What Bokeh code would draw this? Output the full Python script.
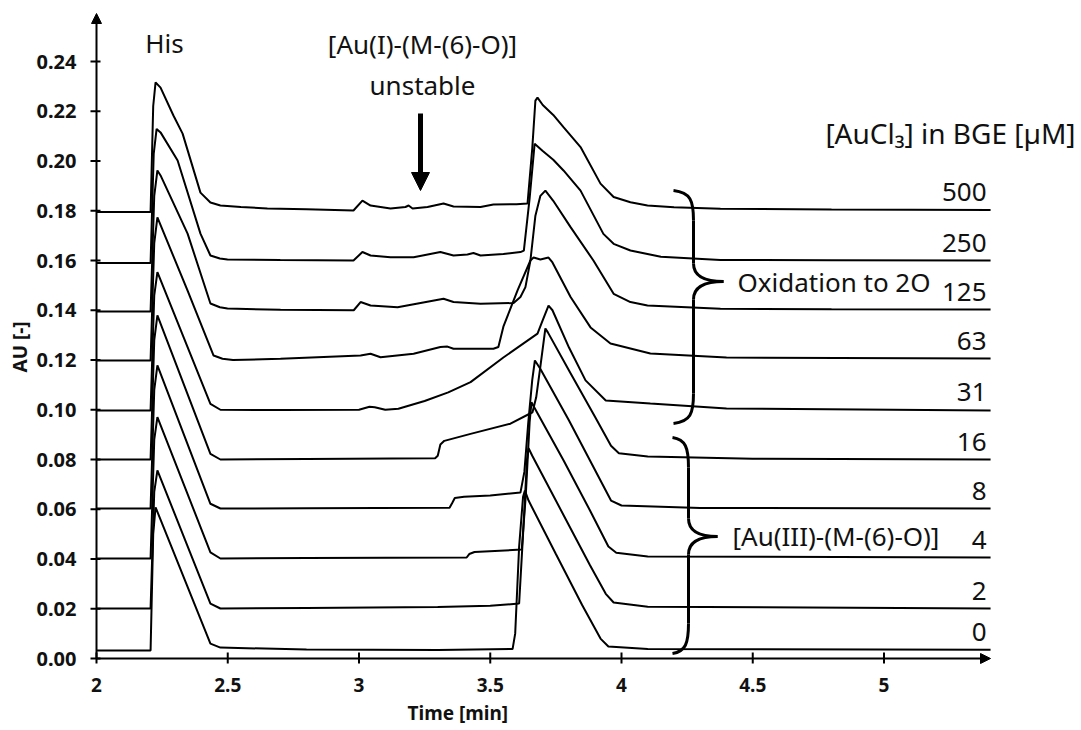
from bokeh.plotting import figure
from bokeh.models import (Range1d, FixedTicker, NumeralTickFormatter, CustomJSTickFormatter,
                          Arrow, NormalHead, Title)
from bokeh.core.properties import value
from bokeh.embed import file_html
from bokeh.resources import INLINE

# ---------------- data ----------------
conc_labels = ["500", "250", "125", "63", "31", "16", "8", "4", "2", "0"]
x_ticks = [2, 2.5, 3, 3.5, 4, 4.5, 5]
y_ticks = [0.00, 0.02, 0.04, 0.06, 0.08, 0.10, 0.12, 0.14, 0.16, 0.18, 0.20, 0.22, 0.24]

t_500 = [2.00, 2.206, 2.216, 2.225, 2.244, 2.293, 2.328, 2.396, 2.434, 2.472, 2.55, 2.651, 2.80, 2.979, 3.013,
         3.044, 3.12, 3.177, 3.189, 3.204, 3.261, 3.322, 3.36, 3.463, 3.512, 3.60, 3.642, 3.66, 3.672, 3.68,
         3.70, 3.74, 3.779, 3.844, 3.92, 3.97, 4.034, 4.099, 4.20, 4.377, 4.8, 5.406]
a_500 = [0.1795, 0.1795, 0.222, 0.2316, 0.2295, 0.2183, 0.211, 0.1873, 0.1833, 0.1821, 0.1815, 0.1809, 0.1806,
         0.1801, 0.1841, 0.1821, 0.1809, 0.1815, 0.1821, 0.1809, 0.1815, 0.1829, 0.1817, 0.1815, 0.1825, 0.1826,
         0.1829, 0.205, 0.2243, 0.2255, 0.2225, 0.2185, 0.2136, 0.2056, 0.1909, 0.1855, 0.1834, 0.1821, 0.1814,
         0.1808, 0.1805, 0.1803]

t_250 = [2.00, 2.206, 2.218, 2.229, 2.244, 2.309, 2.396, 2.434, 2.47, 2.499, 2.7, 2.979, 3.013, 3.044, 3.12,
         3.208, 3.31, 3.36, 3.413, 3.436, 3.463, 3.55, 3.615, 3.628, 3.65, 3.669, 3.70, 3.74, 3.779, 3.844,
         3.931, 3.97, 4.034, 4.15, 4.377, 4.8, 5.406]
a_250 = [0.1590, 0.1590, 0.203, 0.2129, 0.2115, 0.2002, 0.1708, 0.1620, 0.1608, 0.1604, 0.1602, 0.1600, 0.1634,
         0.1620, 0.1613, 0.1613, 0.1634, 0.1620, 0.1624, 0.1630, 0.1620, 0.1626, 0.1634, 0.1640, 0.185, 0.2069,
         0.2040, 0.2005, 0.1962, 0.1881, 0.1707, 0.1667, 0.1640, 0.1615, 0.1602, 0.1601, 0.1600]

t_125 = [2.00, 2.206, 2.220, 2.232, 2.244, 2.347, 2.434, 2.47, 2.499, 2.701, 2.98, 3.006, 3.044, 3.147, 3.322,
         3.36, 3.463, 3.589, 3.615, 3.634, 3.653, 3.672, 3.691, 3.71, 3.74, 3.806, 3.893, 3.97, 4.034, 4.099,
         4.377, 4.8, 5.406]
a_125 = [0.1395, 0.1395, 0.186, 0.1962, 0.1942, 0.1708, 0.1427, 0.1412, 0.1407, 0.1402, 0.1400, 0.1433, 0.1419,
         0.1412, 0.1446, 0.1433, 0.1426, 0.1429, 0.1453, 0.1493, 0.1600, 0.1780, 0.1860, 0.1881, 0.1840, 0.1734,
         0.1600, 0.1466, 0.1433, 0.1419, 0.1406, 0.1404, 0.1403]

t_63 = [2.00, 2.206, 2.220, 2.232, 2.347, 2.446, 2.48, 2.52, 2.701, 3.006, 3.044, 3.082, 3.208, 3.31, 3.337,
        3.36, 3.512, 3.531, 3.55, 3.604, 3.653, 3.665, 3.691, 3.722, 3.737, 3.806, 3.882, 3.958, 4.11, 4.4, 5.406]
a_63 = [0.1198, 0.1198, 0.167, 0.1773, 0.1479, 0.1218, 0.1205, 0.1200, 0.1205, 0.1218, 0.1225, 0.1211, 0.1225,
        0.1252, 0.1254, 0.1245, 0.1245, 0.1252, 0.1334, 0.1480, 0.1600, 0.1612, 0.1604, 0.1612, 0.1592, 0.1453,
        0.1331, 0.1266, 0.1226, 0.1210, 0.1206]

t_31 = [2.00, 2.206, 2.220, 2.232, 2.434, 2.472, 2.7, 3.0, 3.04, 3.06, 3.1, 3.15, 3.25, 3.34, 3.425, 3.55,
        3.68, 3.70, 3.722, 3.737, 3.80, 3.863, 3.94, 4.11, 4.4, 5.406]
a_31 = [0.0997, 0.0997, 0.146, 0.1553, 0.1024, 0.1000, 0.0999, 0.1000, 0.1012, 0.1010, 0.1000, 0.1004, 0.1035,
        0.1070, 0.1111, 0.1210, 0.1306, 0.1360, 0.1419, 0.1400, 0.1250, 0.1118, 0.1037, 0.1025, 0.1005, 0.0997]

t_16 = [2.00, 2.206, 2.220, 2.232, 2.434, 2.472, 2.8, 3.29, 3.30, 3.31, 3.325, 3.425, 3.577, 3.661, 3.675,
        3.69, 3.71, 3.72, 3.80, 3.90, 3.96, 3.99, 4.1, 4.5, 5.406]
a_16 = [0.0800, 0.0800, 0.128, 0.1379, 0.0823, 0.0800, 0.0802, 0.0805, 0.0815, 0.0860, 0.0875, 0.0903, 0.0944,
        0.0990, 0.1050, 0.1166, 0.1327, 0.1310, 0.1158, 0.0970, 0.0855, 0.0825, 0.0812, 0.0803, 0.0800]

t_8 = [2.00, 2.206, 2.220, 2.232, 2.434, 2.472, 2.8, 3.345, 3.355, 3.365, 3.40, 3.50, 3.615, 3.63, 3.645,
       3.66, 3.67, 3.69, 3.80, 3.90, 3.96, 4.00, 4.3, 5.406]
a_8 = [0.0603, 0.0603, 0.108, 0.1178, 0.0622, 0.0603, 0.0604, 0.0606, 0.0625, 0.0645, 0.0650, 0.0655, 0.0667,
       0.0750, 0.0950, 0.1120, 0.1198, 0.1166, 0.0957, 0.0756, 0.0635, 0.0615, 0.0605, 0.0603]

t_4 = [2.00, 2.206, 2.220, 2.232, 2.434, 2.472, 2.8, 3.41, 3.42, 3.44, 3.62, 3.635, 3.65, 3.657, 3.67, 3.78,
       3.88, 3.95, 3.98, 4.1, 5.406]
a_4 = [0.0402, 0.0402, 0.088, 0.0970, 0.0427, 0.0402, 0.0404, 0.0406, 0.0420, 0.0428, 0.0438, 0.0650, 0.0950,
       0.1030, 0.1005, 0.0795, 0.0595, 0.0450, 0.0425, 0.0410, 0.0406]

t_2 = [2.00, 2.206, 2.220, 2.232, 2.434, 2.472, 2.8, 3.3, 3.5, 3.61, 3.625, 3.64, 3.646, 3.66, 3.78, 3.88,
       3.94, 3.97, 4.1, 5.406]
a_2 = [0.0201, 0.0201, 0.067, 0.0756, 0.0221, 0.0201, 0.0203, 0.0207, 0.0212, 0.0221, 0.0500, 0.0800, 0.0845,
       0.0815, 0.0575, 0.0375, 0.0260, 0.0225, 0.0208, 0.0201]

t_0 = [2.00, 2.206, 2.216, 2.225, 2.434, 2.472, 2.8, 3.3, 3.585, 3.595, 3.61, 3.625, 3.632, 3.646, 3.75, 3.85,
       3.92, 3.95, 4.1, 5.406]
a_0 = [0.0032, 0.0032, 0.050, 0.0608, 0.0060, 0.0044, 0.0036, 0.0034, 0.0038, 0.0100, 0.0450, 0.0650, 0.0675,
       0.0635, 0.0420, 0.0215, 0.0080, 0.0048, 0.0038, 0.0035]

traces = [(t_500, a_500), (t_250, a_250), (t_125, a_125), (t_63, a_63), (t_31, a_31),
          (t_16, a_16), (t_8, a_8), (t_4, a_4), (t_2, a_2), (t_0, a_0)]

# ---------------- layout (reference pixel geometry) ----------------
PXX = 1 / 262.5      # minutes per pixel
PY = 1 / 2487.5      # AU per pixel
AX_X, AX_Y = 96, 658  # pixel position of (2, 0)

def PXV(px):
    return 2.0 + (px - AX_X) * PXX

def PYV(py):
    return (AX_Y - py) * PY

FRAME_L, FRAME_R, FRAME_T, FRAME_B = 89, 1076, 10, 665
FW, FH = FRAME_R - FRAME_L, FRAME_B - FRAME_T
X0, X1 = PXV(FRAME_L), PXV(FRAME_R)
Y0, Y1 = PYV(FRAME_B), PYV(FRAME_T)

FONT = "Noto Sans"
INK = "#111111"

p = figure(frame_width=FW, frame_height=FH, x_range=Range1d(X0, X1), y_range=Range1d(Y0, Y1),
           min_border_left=FRAME_L, min_border_right=0, min_border_top=FRAME_T, min_border_bottom=0,
           output_backend="svg", toolbar_location=None, background_fill_color="white")
p.outline_line_color = None
p.xgrid.visible = False
p.ygrid.visible = False

# real axes carry the tick labels; their lines/ticks are drawn inside the frame below
for ax in (p.xaxis[0], p.yaxis[0]):
    ax.axis_line_color = None
    ax.major_tick_line_color = None
    ax.major_tick_in = 0
    ax.major_tick_out = 0
    ax.minor_tick_line_color = None
    ax.major_label_text_font = FONT
    ax.major_label_text_font_style = "bold"
    ax.major_label_text_color = INK

p.yaxis.ticker = FixedTicker(ticks=y_ticks)
p.yaxis.formatter = NumeralTickFormatter(format="0.00")
p.yaxis.major_label_standoff = 13
p.yaxis.major_label_text_font_size = "20px"

p.xaxis.ticker = FixedTicker(ticks=x_ticks)
p.xaxis.formatter = CustomJSTickFormatter(code="return tick.toString()")
p.xaxis.major_label_standoff = 12
p.xaxis.major_label_text_font_size = "19px"

# axis titles (offset to sit where the reference has them)
p.add_layout(Title(text="Time [min]", align="left", offset=407 - FRAME_L, standoff=7,
                   text_font=FONT, text_font_style="bold", text_font_size="19px", text_color=INK), "below")
p.add_layout(Title(text="AU [-]", align="left", offset=FRAME_B - 372, standoff=2,
                   text_font=FONT, text_font_style="bold", text_font_size="19px", text_color=INK), "left")

# traces
for t, a in traces:
    p.line(t, a, line_color="black", line_width=2)

# axis lines with arrow heads
p.add_layout(Arrow(end=NormalHead(size=10, fill_color="black", line_color="black"),
                   x_start=2.0, y_start=0, x_end=2.0, y_end=PYV(13), line_width=2, line_color="black"))
p.add_layout(Arrow(end=NormalHead(size=10, fill_color="black", line_color="black"),
                   x_start=2.0, y_start=0, x_end=PXV(990), y_end=0, line_width=2, line_color="black"))

# tick marks crossing the axis lines
p.segment(x0=[PXV(90)] * len(y_ticks), y0=y_ticks, x1=[PXV(100)] * len(y_ticks), y1=y_ticks,
          line_color="black", line_width=2)
p.segment(x0=x_ticks, y0=[PYV(652)] * len(x_ticks), x1=x_ticks, y1=[PYV(663)] * len(x_ticks),
          line_color="black", line_width=2)

# down arrow
p.add_layout(Arrow(end=NormalHead(size=18, fill_color="black", line_color="black"),
                   x_start=PXV(420), y_start=PYV(113), x_end=PXV(420), y_end=PYV(190),
                   line_width=5, line_color="black"))

# concentration labels
p.text(x=[PXV(986)] * len(conc_labels), y=[a[-1] for _, a in traces], text=conc_labels,
       text_align="right", text_baseline="alphabetic", y_offset=-18,
       text_font=value(FONT), text_font_size="26px", text_color=INK)

def txt(px, py, s, align="center", size="26px"):
    p.text(x=[PXV(px)], y=[PYV(py)], text=[s], text_align=align, text_baseline="alphabetic",
           text_font=value(FONT), text_font_size=size, text_color=INK)

txt(164, 42.5, "His")
txt(422, 43, "[Au(I)-(M-(6)-O)]")
txt(422, 84.5, "unstable")
txt(1075, 132, "[AuCl\u2083] in BGE [\u00b5M]", align="right", size="28px")
txt(737, 281.5, "Oxidation to 2O", align="left")
txt(732, 535, "[Au(III)-(M-(6)-O)]", align="left")

# curly braces (pixel geometry from the reference)
def brace(xl, xv, xt, yt, ym, yb):
    segs = [
        ((xl, yt), (xv - 3, yt + 2), (xv, yt + 10), (xv, yt + 30)),
        ((xv, ym - 18), (xv, ym - 5), (xv + 12, ym), (xt, ym)),
        ((xt, ym), (xv + 12, ym), (xv, ym + 5), (xv, ym + 18)),
        ((xv, yb - 30), (xv, yb - 10), (xv - 3, yb - 2), (xl, yb)),
    ]
    p.bezier(x0=[PXV(s[0][0]) for s in segs], y0=[PYV(s[0][1]) for s in segs],
             x1=[PXV(s[3][0]) for s in segs], y1=[PYV(s[3][1]) for s in segs],
             cx0=[PXV(s[1][0]) for s in segs], cy0=[PYV(s[1][1]) for s in segs],
             cx1=[PXV(s[2][0]) for s in segs], cy1=[PYV(s[2][1]) for s in segs],
             line_color="black", line_width=3)
    p.multi_line(xs=[[PXV(xv), PXV(xv)], [PXV(xv), PXV(xv)]],
                 ys=[[PYV(yt + 30), PYV(ym - 18)], [PYV(ym + 18), PYV(yb - 30)]],
                 line_color="black", line_width=3)

brace(673, 693, 723, 190, 281, 423)
brace(672, 688, 717, 437, 536, 653)

open("out.html", "w").write(file_html(p, INLINE))
